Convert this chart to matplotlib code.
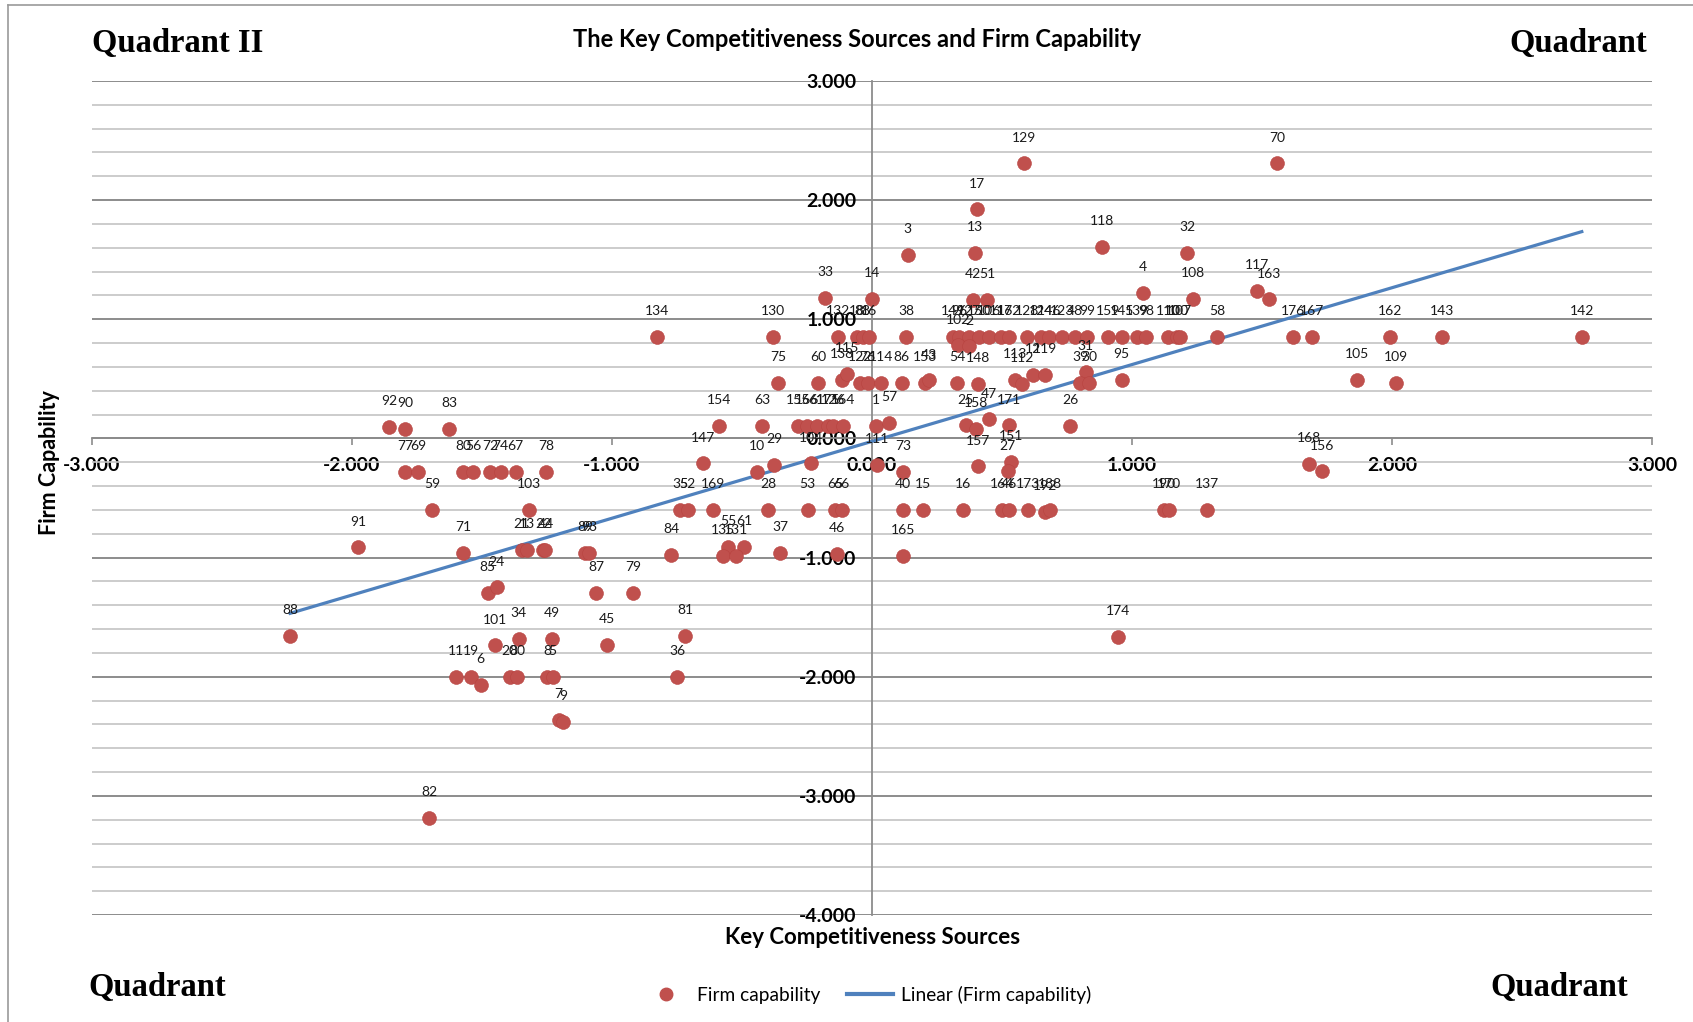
import numpy as np
import matplotlib
matplotlib.use("Agg")
import matplotlib.pyplot as plt
from matplotlib.lines import Line2D
from matplotlib.ticker import MultipleLocator, FormatStrFormatter

# firm id, key competitiveness sources score, firm capability score
labels = [
    "129", "70", "17", "3", "13", "118", "32", "4", "42", "51", "108", "117", "163", "33", "14",
    "134", "130", "132", "18", "88", "16", "38",
    "149", "96", "127", "150", "106", "116", "172", "128", "124", "146", "123", "48", "99",
    "159", "145", "139", "98", "110", "100", "107",
    "58", "176", "167", "162", "143", "142",
    "102", "2",
    "75", "60", "138", "115", "122", "76", "114", "86", "153", "43", "54", "148", "113", "112",
    "12", "119", "31", "39", "30", "95", "105", "109",
    "92", "90", "83", "154", "63", "155", "166", "61", "175", "126", "164", "1", "57",
    "25", "158", "47", "171", "26",
    "77", "69", "80", "56", "72", "74", "67", "78", "147", "10", "29", "104", "111", "73",
    "157", "151", "27", "168", "156",
    "59", "103", "35", "52", "169", "28", "53", "65", "66", "40", "15", "16", "164", "46",
    "173", "192", "188", "190", "170", "137",
    "91", "71", "21", "13", "22", "44", "89", "93", "84", "55", "61", "135", "131", "37",
    "46", "165",
    "85", "24", "87", "79",
    "88", "34", "49", "101", "45", "81", "174",
    "11", "19", "6", "20", "80", "8", "5", "36", "7", "9", "82",
]
key_sources = [
    0.586, 1.559, 0.404, 0.137, 0.396, 0.883, 1.213, 1.042, 0.390, 0.444, 1.233, 1.481, 1.527, -0.180, 0.001,
    -0.828, -0.380, -0.130, -0.059, -0.036, -0.013, 0.131,
    0.310, 0.336, 0.374, 0.412, 0.450, 0.495, 0.527, 0.597, 0.649, 0.681, 0.732, 0.781, 0.826,
    0.909, 0.960, 1.020, 1.054, 1.140, 1.172, 1.185,
    1.328, 1.618, 1.693, 1.991, 2.193, 2.730,
    0.332, 0.374,
    -0.360, -0.206, -0.114, -0.095, -0.046, -0.017, 0.035, 0.115, 0.204, 0.220, 0.328, 0.409, 0.550, 0.576,
    0.618, 0.665, 0.822, 0.800, 0.835, 0.960, 1.867, 2.017,
    -1.858, -1.795, -1.627, -0.587, -0.423, -0.286, -0.251, -0.213, -0.168, -0.149, -0.110, 0.015, 0.067,
    0.360, 0.399, 0.450, 0.528, 0.762,
    -1.795, -1.745, -1.572, -1.533, -1.469, -1.428, -1.370, -1.253, -0.649, -0.444, -0.376, -0.233, 0.018, 0.120,
    0.409, 0.535, 0.522, 1.681, 1.730,
    -1.693, -1.319, -0.738, -0.709, -0.610, -0.399, -0.247, -0.142, -0.117, 0.120, 0.197, 0.349, 0.499, 0.528,
    0.601, 0.665, 0.685, 1.123, 1.142, 1.290,
    -1.976, -1.572, -1.347, -1.328, -1.264, -1.256, -1.104, -1.087, -0.773, -0.553, -0.491, -0.572, -0.523, -0.354,
    -0.136, 0.118,
    -1.478, -1.443, -1.062, -0.918,
    -2.238, -1.359, -1.231, -1.449, -1.020, -0.719, 0.947,
    -1.599, -1.541, -1.505, -1.394, -1.364, -1.250, -1.228, -0.750, -1.205, -1.187, -1.704,
]
firm_capability = [
    2.308, 2.308, 1.922, 1.538, 1.557, 1.608, 1.557, 1.221, 1.166, 1.166, 1.174, 1.238, 1.168, 1.182, 1.174,
    0.855, 0.855, 0.855, 0.855, 0.855, 0.855, 0.855,
    0.855, 0.855, 0.855, 0.855, 0.855, 0.855, 0.855, 0.855, 0.855, 0.855, 0.855, 0.855, 0.855,
    0.855, 0.855, 0.855, 0.855, 0.855, 0.855, 0.855,
    0.855, 0.855, 0.855, 0.855, 0.855, 0.855,
    0.780, 0.773,
    0.468, 0.468, 0.493, 0.544, 0.468, 0.468, 0.468, 0.468, 0.468, 0.487, 0.468, 0.460, 0.493, 0.460,
    0.535, 0.535, 0.557, 0.468, 0.468, 0.493, 0.493, 0.465,
    0.100, 0.078, 0.078, 0.103, 0.103, 0.103, 0.103, 0.103, 0.103, 0.103, 0.103, 0.103, 0.129,
    0.109, 0.081, 0.160, 0.109, 0.103,
    -0.283, -0.283, -0.283, -0.283, -0.283, -0.283, -0.283, -0.283, -0.210, -0.283, -0.221, -0.210, -0.221, -0.283,
    -0.235, -0.199, -0.277, -0.213, -0.277,
    -0.597, -0.597, -0.597, -0.597, -0.597, -0.597, -0.597, -0.597, -0.597, -0.597, -0.597, -0.597, -0.597, -0.597,
    -0.597, -0.619, -0.597, -0.597, -0.597, -0.597,
    -0.913, -0.961, -0.935, -0.935, -0.935, -0.935, -0.961, -0.961, -0.978, -0.908, -0.908, -0.983, -0.983, -0.961,
    -0.969, -0.983,
    -1.297, -1.249, -1.297, -1.297,
    -1.658, -1.683, -1.683, -1.737, -1.731, -1.658, -1.664,
    -2.000, -2.000, -2.070, -2.000, -2.000, -2.000, -2.000, -2.000, -2.361, -2.381, -3.182,
]

x = np.array(key_sources)
y = np.array(firm_capability)

RED = "#C0504D"
BLUE = "#4F81BD"
GRID_MAJOR = "#8C8C8C"
GRID_MINOR = "#C4C4C4"

plt.rcParams["font.family"] = ["Lato", "DejaVu Sans"]

W, H = 1693, 1022
fig = plt.figure(figsize=(W / 100, H / 100), dpi=100)
ax = fig.add_axes([92 / W, 1 - 915 / H, 1560 / W, 834 / H])

ax.set_xlim(-3, 3)
ax.set_ylim(-4, 3)

# axes cross at the origin, excel style
for side in ["top", "right"]:
    ax.spines[side].set_visible(False)
ax.spines["bottom"].set_position(("data", 0))
ax.spines["left"].set_position(("data", 0))
for side in ["bottom", "left"]:
    ax.spines[side].set_color(GRID_MAJOR)
    ax.spines[side].set_linewidth(1.3)
    ax.spines[side].set_zorder(1)

ax.xaxis.set_major_locator(MultipleLocator(1))
ax.yaxis.set_major_locator(MultipleLocator(1))
ax.yaxis.set_minor_locator(MultipleLocator(0.2))
ax.xaxis.set_major_formatter(FormatStrFormatter("%.3f"))
ax.yaxis.set_major_formatter(FormatStrFormatter("%.3f"))
ax.tick_params(axis="x", which="major", direction="out", length=5, width=1.2,
               color=GRID_MAJOR, pad=8.5, labelsize=14)
ax.tick_params(axis="y", which="both", length=0, pad=11, labelsize=14)
for lab in ax.get_xticklabels() + ax.get_yticklabels():
    lab.set_fontweight("bold")

ax.grid(axis="y", which="major", color=GRID_MAJOR, linewidth=1.4)
ax.grid(axis="y", which="minor", color=GRID_MINOR, linewidth=1.2)
ax.set_axisbelow(True)

# linear trend over the data range
slope, intercept = np.polyfit(x, y, 1)
xs = np.array([x.min(), x.max()])
ax.plot(xs, slope * xs + intercept, color=BLUE, linewidth=2.3, zorder=3)

ax.scatter(x, y, s=100, color=RED, edgecolors="#B8423F", linewidths=0.4, zorder=4)
for lbl, px, py in zip(labels, x, y):
    ax.annotate(lbl, (px, py), xytext=(0, 18.5), textcoords="offset points",
                ha="center", va="center", fontsize=10, color="#1a1a1a", zorder=5)

# titles
fig.text(857 / W, 1 - 47 / H, "The Key Competitiveness Sources and Firm Capability",
         ha="center", va="baseline", fontsize=17, fontweight="bold")
fig.text(873 / W, 1 - 944 / H, "Key Competitiveness Sources",
         ha="center", va="baseline", fontsize=16, fontweight="bold")
fig.text(49 / W, 1 - 463 / H, "Firm Capability", rotation=90,
         ha="center", va="center", fontsize=15.5, fontweight="bold")

quad_font = dict(family="Liberation Serif", fontsize=23.5, fontweight="bold", va="baseline")
fig.text(92 / W, 1 - 52 / H, "Quadrant II", ha="left", **quad_font)
fig.text(1647 / W, 1 - 52 / H, "Quadrant", ha="right", **quad_font)
fig.text(88 / W, 1 - 996 / H, "Quadrant", ha="left", **quad_font)
fig.text(1628 / W, 1 - 996 / H, "Quadrant", ha="right", **quad_font)

handles = [
    Line2D([], [], linestyle="none", marker="o", markersize=9, color=RED),
    Line2D([], [], color=BLUE, linewidth=3),
]
fig.legend(handles, ["Firm capability", "Linear (Firm capability)"],
           loc="center", bbox_to_anchor=(867 / W, 1 - 995 / H), ncol=2,
           frameon=False, fontsize=13.8, handlelength=2.4, columnspacing=1.4,
           handletextpad=0.4)

# chart area border
fig.add_artist(Line2D([8 / W, 8 / W], [0, 1 - 5 / H], transform=fig.transFigure,
                      color="#9A9A9A", linewidth=1.2))
fig.add_artist(Line2D([8 / W, 1], [1 - 5 / H, 1 - 5 / H], transform=fig.transFigure,
                      color="#9A9A9A", linewidth=1.2))

fig.savefig("out.png", dpi=100)
